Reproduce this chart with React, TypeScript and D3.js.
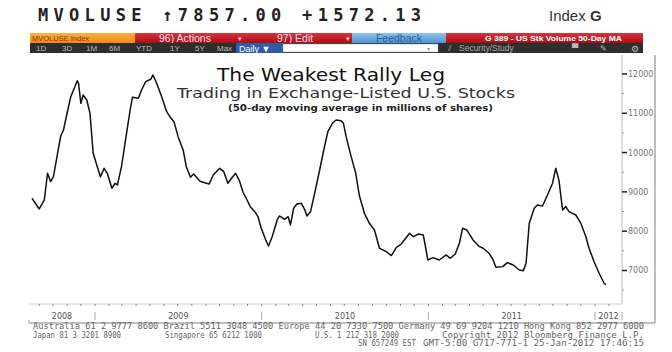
import React from "react";
import * as d3 from "d3";

// 50-day moving average of U.S. exchange-listed volume, millions of shares
const dates = [
  "2008-08-16", "2008-09-01", "2008-09-12", "2008-09-19", "2008-09-26", "2008-10-02",
  "2008-10-11", "2008-10-18", "2008-10-24", "2008-10-31", "2008-11-09", "2008-11-18",
  "2008-11-23", "2008-11-26", "2008-12-01", "2008-12-06", "2008-12-14", "2008-12-21",
  "2008-12-28", "2009-01-06", "2009-01-13", "2009-01-21", "2009-01-28", "2009-02-07",
  "2009-02-14", "2009-02-19", "2009-02-28", "2009-03-10", "2009-03-19", "2009-03-24",
  "2009-04-06", "2009-04-13", "2009-04-22", "2009-05-03", "2009-05-08", "2009-05-16",
  "2009-05-27", "2009-06-07", "2009-06-14", "2009-06-23", "2009-07-02", "2009-07-13",
  "2009-07-20", "2009-07-29", "2009-08-05", "2009-08-19", "2009-08-29", "2009-09-08",
  "2009-09-17", "2009-10-01", "2009-10-10", "2009-10-19", "2009-10-27", "2009-11-05",
  "2009-11-14", "2009-11-21", "2009-11-30", "2009-12-07", "2009-12-17", "2009-12-24",
  "2009-12-31", "2010-01-10", "2010-01-16", "2010-01-24", "2010-02-04", "2010-02-09",
  "2010-02-20", "2010-02-28", "2010-03-05", "2010-03-12", "2010-03-19", "2010-03-29",
  "2010-04-05", "2010-04-10", "2010-04-18", "2010-04-27", "2010-05-08", "2010-05-17",
  "2010-05-26", "2010-06-05", "2010-06-13", "2010-06-24", "2010-06-29", "2010-07-05",
  "2010-07-16", "2010-07-26", "2010-08-03", "2010-08-14", "2010-08-25", "2010-09-05",
  "2010-09-16", "2010-10-01", "2010-10-12", "2010-10-23", "2010-11-02", "2010-11-21",
  "2010-11-29", "2010-12-11", "2010-12-21", "2010-12-31", "2011-01-11", "2011-01-25",
  "2011-02-09", "2011-02-18", "2011-03-01", "2011-03-10", "2011-03-17", "2011-03-26",
  "2011-04-09", "2011-04-23", "2011-05-01", "2011-05-14", "2011-05-23", "2011-05-29",
  "2011-06-13", "2011-06-23", "2011-07-06", "2011-07-19", "2011-07-28", "2011-08-03",
  "2011-08-10", "2011-08-21", "2011-08-28", "2011-09-08", "2011-09-19", "2011-09-30",
  "2011-10-07", "2011-10-14", "2011-10-22", "2011-10-29", "2011-11-05", "2011-11-20",
  "2011-12-01", "2011-12-12", "2011-12-19", "2011-12-30", "2012-01-10", "2012-01-21",
  "2012-01-25",
];
const volume = [
  8837, 8565, 8794, 9473, 9260, 9387,
  9982, 10422, 10575, 10957, 11424, 11677,
  11830, 11763, 11254, 11466, 11338, 11000,
  9982, 9641, 9387, 9600, 9473, 9092,
  9219, 9176, 9641, 10405, 11084, 11407,
  11382, 11593, 11804, 11865, 11975, 11763,
  11424, 11041, 10914, 10786, 10405, 10066,
  9641, 9372, 9455, 9270, 9234, 9201,
  9430, 9600, 9514, 9219, 9346, 9473,
  9260, 8995, 8794, 8623, 8496, 8369,
  8073, 7776, 7623, 7860, 8285, 8387,
  8303, 8369, 8158, 8583, 8692, 8710,
  8557, 8387, 8496, 8964, 9557, 10066,
  10532, 10745, 10830, 10812, 10745, 10405,
  9896, 9473, 8900, 8455, 8200, 8031,
  7565, 7478, 7380, 7590, 7667, 7946,
  7860, 7929, 7903, 7267, 7326, 7267,
  7395, 7310, 7420, 7692, 8073, 8031,
  7776, 7606, 7565, 7438, 7267, 7081,
  7098, 7200, 7140, 7013, 6996, 7183,
  8201, 8583, 8667, 8641, 8921, 9219,
  9600, 9300, 8540, 8625, 8496, 8412,
  8201, 7860, 7565, 7224, 6929, 6675,
  6640,
];

const yTicks = [7000, 8000, 9000, 10000, 11000, 12000];
const yMinorTicks = [6500, 7500, 8500, 9500, 10500, 11500];
const yearLabels = ["2008", "2009", "2010", "2011", "2012"];
const periodButtons = ["1D", "3D", "1M", "6M", "YTD", "1Y", "5Y", "Max"];

const footer1 =
  "Australia 61 2 9777 8600 Brazil 5511 3048 4500 Europe 44 20 7330 7500 Germany 49 69 9204 1210 Hong Kong 852 2977 6000";

export default function App() {
  const width = 672;
  const height = 352;
  const plot = { left: 29, right: 622, top: 55, bottom: 304 };

  const parse = d3.timeParse("%Y-%m-%d");
  const data = dates.map((d, i) => ({ date: parse(d), value: volume[i] }));

  const x = d3
    .scaleTime()
    .domain([new Date(2009, 0, 1), new Date(2012, 0, 1)])
    .range([95, 595]);
  const y = d3.scaleLinear().domain([6147, 12483]).range([plot.bottom, plot.top]);

  const line = d3
    .line()
    .x((d) => x(d.date))
    .y((d) => y(d.value));

  const monthTicks = d3.timeMonth
    .range(x.invert(plot.left), x.invert(plot.right))
    .map((d) => x(d));

  const yearBounds = yearLabels.map((yr) => x(new Date(+yr, 0, 1)));
  const yearMid = yearLabels.map((yr, i) => {
    const a = Math.max(plot.left, x(new Date(+yr, 0, 1)));
    const b = Math.min(plot.right, x(new Date(+yr + 1, 0, 1)));
    return (a + b) / 2;
  });

  const mono = "'DejaVu Sans Mono', monospace";
  const sans = "'DejaVu Sans', Verdana, sans-serif";
  const ui = "'Liberation Sans', Arial, sans-serif";

  return (
    <svg
      width={width}
      height={height}
      style={{ position: "absolute", left: 0, top: 0, background: "#fff" }}
      fontFamily={sans}
    >
      <defs>
        <linearGradient id="red" x1="0" y1="0" x2="0" y2="1">
          <stop offset="0" stopColor="#e0323a" />
          <stop offset="1" stopColor="#a80d16" />
        </linearGradient>
        <linearGradient id="blue" x1="0" y1="0" x2="0" y2="1">
          <stop offset="0" stopColor="#8fc3f0" />
          <stop offset="1" stopColor="#4f93d6" />
        </linearGradient>
        <linearGradient id="orange" x1="0" y1="0" x2="0" y2="1">
          <stop offset="0" stopColor="#fbb040" />
          <stop offset="1" stopColor="#f38b14" />
        </linearGradient>
      </defs>

      {/* header */}
      <text x={38} y={21} fontFamily={mono} fontWeight="bold" fontSize={17} letterSpacing={5.3} fill="#222">
        MVOLUSE ↑7857.00 +1572.13
      </text>
      <text x={549} y={21} fontFamily={ui} fontSize={15} fill="#333">
        Index <tspan fontWeight="bold">G</tspan>
      </text>

      {/* toolbar row 1 */}
      <rect x={30} y={33} width={105} height={10} fill="url(#orange)" />
      <text x={32} y={41} fontSize={7.5} fontFamily={ui} fill="#8a3a10">MVOLUSE Index</text>
      <rect x={135} y={33} width={217} height={10} fill="url(#red)" />
      <text x={159} y={42} fontSize={10.5} fontFamily={ui} fill="#fde">96) Actions</text>
      <text x={238} y={41} fontSize={7} fill="#fde">▾</text>
      <text x={277} y={42} fontSize={10.5} fontFamily={ui} fill="#fde">97) Edit</text>
      <text x={346} y={41} fontSize={7} fill="#fde">▾</text>
      <rect x={352} y={33} width={94} height={10} fill="url(#blue)" />
      <text x={399} y={42} fontSize={10.5} fontFamily={ui} fill="#2d5f9a" textAnchor="middle">Feedback</text>
      <rect x={446} y={33} width={197} height={10} fill="url(#red)" />
      <text x={485} y={41} fontSize={8} fontFamily={ui} fontWeight="bold" fill="#fff" textLength={137} lengthAdjust="spacingAndGlyphs">
        G 389 - US Stk Volume 50-Day MA
      </text>

      {/* toolbar row 2 */}
      <rect x={30} y={43} width={613} height={10} fill="#2e2e2e" />
      {periodButtons.map((b, i) => (
        <text key={b} x={[36, 62, 86, 109, 136, 170, 195, 217][i]} y={51} fontSize={8} fontFamily={ui} fill="#bbb">
          {b}
        </text>
      ))}
      <rect x={236} y={43} width={47} height={10} fill="#2a5ea8" />
      <text x={239} y={51.5} fontSize={9} fontFamily={ui} fill="#fff">Daily ▼</text>
      <rect x={283} y={44} width={155} height={8} fill="#fff" stroke="#999" strokeWidth={0.5} />
      <text x={427} y={51} fontSize={6} fill="#999">▾</text>
      <text x={448} y={51} fontSize={8} fill="#aaa">⫽</text>
      <text x={459} y={51} fontSize={8.5} fontFamily={ui} fill="#aaa">Security/Study</text>
      <text x={572} y={51} fontSize={8} fill="#bbb">▀</text>
      <text x={600} y={51} fontSize={8} fill="#bbb">✎</text>
      <text x={631} y={51.5} fontSize={9} fill="#bbb">⚙</text>

      {/* frame */}
      <line x1={655} x2={655} y1={55} y2={323} stroke="#aaa" strokeWidth={1.5} />
      <line x1={29} x2={655} y1={323} y2={323} stroke="#aaa" strokeWidth={1.5} />
      <line x1={29} x2={29} y1={320} y2={323} stroke="#aaa" />

      {/* right axis */}
      <line x1={plot.right} x2={plot.right} y1={plot.top} y2={plot.bottom} stroke="#bbb" />
      {yTicks.map((t) => (
        <g key={t}>
          <line x1={plot.right} x2={plot.right + 5} y1={y(t)} y2={y(t)} stroke="#222" strokeWidth={1.5} />
          <text x={plot.right + 6} y={y(t) + 3} fontSize={8} fill="#777">
            {t}
          </text>
        </g>
      ))}
      {yMinorTicks.map((t) => (
        <line key={t} x1={plot.right} x2={plot.right + 2} y1={y(t)} y2={y(t)} stroke="#999" />
      ))}

      {/* bottom axis */}
      <line x1={plot.left} x2={plot.right} y1={plot.bottom} y2={plot.bottom} stroke="#ccc" />
      {monthTicks.map((mx, i) => (
        <line key={i} x1={mx} x2={mx} y1={plot.bottom} y2={plot.bottom + 2} stroke="#888" />
      ))}
      {yearBounds
        .filter((b) => b > plot.left && b < plot.right)
        .map((b, i) => (
          <line key={i} x1={b} x2={b} y1={312} y2={320} stroke="#aaa" />
        ))}
      <line x1={plot.right} x2={plot.right} y1={312} y2={320} stroke="#aaa" />
      {yearLabels.map((yr, i) => (
        <text key={yr} x={yearMid[i]} y={319} fontSize={8} fill="#555" textAnchor="middle">
          {yr}
        </text>
      ))}

      {/* series */}
      <path d={line(data)} fill="none" stroke="#111" strokeWidth={1.5} strokeLinejoin="round" />

      {/* titles */}
      <text x={217} y={81} fontSize={17} fill="#111" textLength={228} lengthAdjust="spacingAndGlyphs">
        The Weakest Rally Leg
      </text>
      <text x={177} y={98} fontSize={14} fill="#333" textLength={338} lengthAdjust="spacingAndGlyphs">
        Trading in Exchange-Listed U.S. Stocks
      </text>
      <text x={228} y={111} fontSize={9.5} fontWeight="bold" fill="#222" textLength={265} lengthAdjust="spacingAndGlyphs">
        (50-day moving average in millions of shares)
      </text>

      {/* footer */}
      <g fontFamily={mono} fontSize={8} fill="#666">
        <text x={33} y={329} textLength={611} lengthAdjust="spacingAndGlyphs">{footer1}</text>
        <text x={33} y={337.5} textLength={88} lengthAdjust="spacingAndGlyphs">Japan 81 3 3201 8900</text>
        <text x={165} y={337.5} textLength={97} lengthAdjust="spacingAndGlyphs">Singapore 65 6212 1000</text>
        <text x={315} y={337.5} textLength={84} lengthAdjust="spacingAndGlyphs">U.S. 1 212 318 2000</text>
        <text x={442} y={337.5} textLength={202} lengthAdjust="spacingAndGlyphs">Copyright 2012 Bloomberg Finance L.P.</text>
        <text x={358} y={346} textLength={58} lengthAdjust="spacingAndGlyphs">SN 657249 EST</text>
        <text x={423} y={346} textLength={221} lengthAdjust="spacingAndGlyphs">GMT-5:00 G717-771-1 25-Jan-2012 17:46:15</text>
      </g>
    </svg>
  );
}
